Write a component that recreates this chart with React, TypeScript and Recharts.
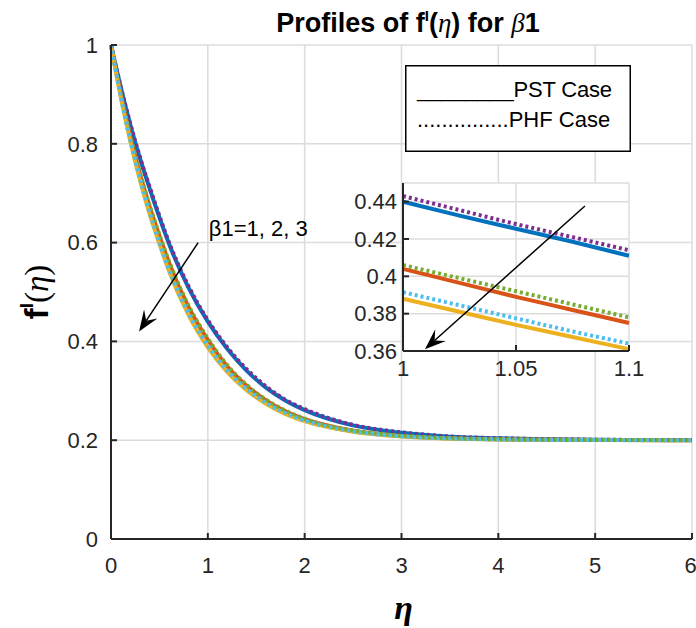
import React from 'react';
import { LineChart, Line, XAxis, YAxis, CartesianGrid, ReferenceLine, ReferenceDot, Legend } from 'recharts';

const SANS = '"Liberation Sans", Arial, Helvetica, sans-serif';
const SERIF = '"Liberation Serif", "Times New Roman", serif';

// main plot: eta from 0 to 6
const etaValues = [0, 0.1, 0.2, 0.3, 0.4, 0.5, 0.6, 0.8, 1.0, 1.2, 1.4, 1.6, 1.8, 2.0, 2.5, 3.0, 3.5, 4.0, 4.5, 5.0, 5.5, 6.0];
const pstBeta1 = [1.0, 0.915, 0.838, 0.77, 0.709, 0.651, 0.597, 0.509, 0.44, 0.385, 0.341, 0.3065, 0.2805, 0.261, 0.23, 0.215, 0.207, 0.2037, 0.2018, 0.2009, 0.2005, 0.2002];
const pstBeta2 = [1.0, 0.901, 0.814, 0.7385, 0.672, 0.6135, 0.559, 0.47, 0.4033, 0.3497, 0.3103, 0.2806, 0.2585, 0.2425, 0.2191, 0.2086, 0.2039, 0.2017, 0.2008, 0.2004, 0.2002, 0.2001];
const pstBeta3 = [1.0, 0.8956, 0.8047, 0.7257, 0.657, 0.5973, 0.542, 0.4536, 0.388, 0.338, 0.3012, 0.2737, 0.2533, 0.2385, 0.2172, 0.2076, 0.2034, 0.2015, 0.2007, 0.2003, 0.2001, 0.2001];
const phfBeta1 = [1.0, 0.916, 0.84, 0.772, 0.712, 0.654, 0.6, 0.512, 0.443, 0.388, 0.344, 0.309, 0.282, 0.263, 0.231, 0.216, 0.2075, 0.204, 0.202, 0.201, 0.2005, 0.2002];
const phfBeta2 = [1.0, 0.902, 0.816, 0.741, 0.675, 0.616, 0.562, 0.473, 0.406, 0.352, 0.312, 0.282, 0.26, 0.2435, 0.2198, 0.209, 0.204, 0.2018, 0.2008, 0.2004, 0.2002, 0.2001];
const phfBeta3 = [1.0, 0.897, 0.807, 0.729, 0.66, 0.6, 0.545, 0.457, 0.3915, 0.341, 0.304, 0.276, 0.255, 0.24, 0.218, 0.208, 0.2036, 0.2016, 0.2007, 0.2003, 0.2001, 0.2001];

// zoomed inset: eta from 1 to 1.1
const insetEta = [1.0, 1.025, 1.05, 1.075, 1.1];
const insetPst1 = [0.44, 0.4325, 0.4255, 0.4185, 0.411];
const insetPst2 = [0.404, 0.3965, 0.389, 0.382, 0.375];
const insetPst3 = [0.388, 0.381, 0.374, 0.3675, 0.361];
const insetPhf1 = [0.443, 0.4355, 0.428, 0.421, 0.414];
const insetPhf2 = [0.406, 0.399, 0.392, 0.385, 0.378];
const insetPhf3 = [0.3915, 0.3845, 0.3775, 0.3705, 0.364];

const mainTicksX = [0, 1, 2, 3, 4, 5, 6];
const mainTicksY = [0, 0.2, 0.4, 0.6, 0.8, 1];
const insetTicksX = [1, 1.05, 1.1];
const insetTicksY = [0.36, 0.38, 0.4, 0.42, 0.44];

const series = [
  { key: 'pst1', color: '#0072BD', dotted: false },
  { key: 'pst2', color: '#D95319', dotted: false },
  { key: 'pst3', color: '#EDB120', dotted: false },
  { key: 'phf1', color: '#7E2F8E', dotted: true },
  { key: 'phf2', color: '#77AC30', dotted: true },
  { key: 'phf3', color: '#4DBEEE', dotted: true },
];

const mainData = etaValues.map((eta, i) => ({
  eta,
  pst1: pstBeta1[i], pst2: pstBeta2[i], pst3: pstBeta3[i],
  phf1: phfBeta1[i], phf2: phfBeta2[i], phf3: phfBeta3[i],
}));

const insetData = insetEta.map((eta, i) => ({
  eta,
  pst1: insetPst1[i], pst2: insetPst2[i], pst3: insetPst3[i],
  phf1: insetPhf1[i], phf2: insetPhf2[i], phf3: insetPhf3[i],
}));

const fmt = (v: number) => String(Number(v.toFixed(2)));
const AXIS = '#262626';
const GRID = '#dcdcdc';
const tickStyle = { fill: AXIS, fontSize: 22, fontFamily: SANS };

const ArrowShape = (props: any) => {
  const { x1, y1, x2, y2 } = props;
  const dx = x2 - x1;
  const dy = y2 - y1;
  const len = Math.hypot(dx, dy) || 1;
  const ux = dx / len;
  const uy = dy / len;
  const nx = -uy;
  const ny = ux;
  const L = 21, W = 8, N = 13;
  const bx = x2 - ux * L;
  const by = y2 - uy * L;
  const pts = [
    [x2, y2],
    [bx + nx * W, by + ny * W],
    [x2 - ux * N, y2 - uy * N],
    [bx - nx * W, by - ny * W],
  ].map((p) => p.join(',')).join(' ');
  return (
    <g>
      <line x1={x1} y1={y1} x2={x2 - ux * N} y2={y2 - uy * N} stroke="#000" strokeWidth={1.5} />
      <polygon points={pts} fill="#000" />
    </g>
  );
};

const YLabel = (props: any) => {
  const { viewBox } = props;
  const cx = viewBox.x + 48;
  const cy = viewBox.y + viewBox.height / 2;
  return (
    <text transform={`translate(${cx},${cy}) rotate(-90)`} textAnchor="middle" fill="#000" fontSize={33} fontFamily={SANS} fontWeight="bold">
      f<tspan fontSize={19} dy={-15}>I</tspan>
      <tspan dy={15} fontFamily={SERIF} fontWeight="normal">(</tspan>
      <tspan fontFamily={SERIF} fontStyle="italic" fontWeight="normal">η</tspan>
      <tspan fontFamily={SERIF} fontWeight="normal">)</tspan>
    </text>
  );
};

const XLabel = (props: any) => {
  const { viewBox } = props;
  return (
    <text x={viewBox.x + viewBox.width / 2 + 2} y={viewBox.y + 80} textAnchor="middle" fill="#000" fontSize={34} fontFamily={SERIF} fontStyle="italic" fontWeight="bold">
      η
    </text>
  );
};

const LegendBox = () => (
  <svg width={226} height={87} style={{ display: 'block' }}>
    <rect x={0.75} y={0.75} width={224.5} height={85.5} fill="#fff" stroke="#000" strokeWidth={1.5} />
    <text x={12} y={32} fontSize={22} fontFamily={SANS} fill="#000" textLength={195} lengthAdjust="spacing">________PST Case</text>
    <text x={12} y={62} fontSize={22} fontFamily={SANS} fill="#000">...............PHF Case</text>
  </svg>
);

function renderLines() {
  return series.map((s) => (
    <Line
      key={s.key}
      type="monotone"
      dataKey={s.key}
      stroke={s.color}
      strokeWidth={4}
      strokeDasharray={s.dotted ? '3 3' : undefined}
      dot={false}
      activeDot={false}
      isAnimationActive={false}
    />
  ));
}

export default function App() {
  return (
    <div style={{ position: 'absolute', left: 0, top: 0, width: 696, height: 628, background: '#fff' }}>
      <LineChart width={696} height={628} data={mainData} margin={{ top: 45, right: 4, left: 0, bottom: 0 }}>
        <CartesianGrid stroke={GRID} strokeWidth={1.5} />
        <XAxis
          dataKey="eta"
          type="number"
          domain={[0, 6]}
          ticks={mainTicksX}
          height={89}
          stroke={AXIS}
          strokeWidth={2}
          tickSize={-6}
          tickMargin={24}
          tick={tickStyle}
          label={{ content: XLabel }}
        />
        <XAxis xAxisId="top" orientation="top" type="number" domain={[0, 6]} ticks={mainTicksX} height={0} stroke={AXIS} strokeWidth={2} tickSize={-6} tick={false} />
        <YAxis
          type="number"
          domain={[0, 1]}
          ticks={mainTicksY}
          width={111}
          stroke={AXIS}
          strokeWidth={2}
          tickSize={-6}
          tickMargin={19}
          tick={tickStyle}
          tickFormatter={fmt}
          label={{ content: YLabel }}
        />
        <YAxis yAxisId="right" orientation="right" type="number" domain={[0, 1]} ticks={mainTicksY} width={0} stroke={AXIS} strokeWidth={2} tickSize={-6} tick={false} />
        {renderLines()}
        <ReferenceLine segment={[{ x: 0.9, y: 0.6 }, { x: 0.29, y: 0.42 }]} shape={ArrowShape} />
        <ReferenceDot
          x={1.01}
          y={0.613}
          r={0}
          shape={(p: any) => (
            <text x={p.cx} y={p.cy} fontSize={22} fontFamily={SANS} fill="#000">β1=1, 2, 3</text>
          )}
        />
        <Legend
          layout="vertical"
          align="center"
          verticalAlign="middle"
          wrapperStyle={{ position: 'absolute', left: 405, top: 65, width: 226, height: 87 }}
          content={() => <LegendBox />}
        />
      </LineChart>

      <div style={{ position: 'absolute', left: 340, top: 170 }}>
        <LineChart width={330} height={215} data={insetData} margin={{ top: 13, right: 41, left: 0, bottom: 0 }}>
          <CartesianGrid stroke={GRID} strokeWidth={1.5} fill="#fff" fillOpacity={1} />
          <XAxis
            dataKey="eta"
            type="number"
            domain={[1, 1.1]}
            ticks={insetTicksX}
            height={34}
            stroke={AXIS}
            strokeWidth={2}
            tickSize={-6}
            tickMargin={15}
            tick={tickStyle}
            tickFormatter={fmt}
          />
          <XAxis xAxisId="top" orientation="top" type="number" domain={[1, 1.1]} ticks={insetTicksX} height={0} stroke={AXIS} strokeWidth={2} tickSize={-6} tick={false} />
          <YAxis
            type="number"
            domain={[0.36, 0.45]}
            ticks={insetTicksY}
            width={63}
            stroke={AXIS}
            strokeWidth={2}
            tickSize={-6}
            tickMargin={12}
            tick={tickStyle}
            tickFormatter={fmt}
          />
          <YAxis yAxisId="right" orientation="right" type="number" domain={[0.36, 0.45]} ticks={insetTicksY} width={0} stroke={AXIS} strokeWidth={2} tickSize={-6} tick={false} />
          {renderLines()}
          <ReferenceLine segment={[{ x: 1.0805, y: 0.4377 }, { x: 1.0097, y: 0.361 }]} shape={ArrowShape} />
        </LineChart>
      </div>

      <svg width={696} height={45} style={{ position: 'absolute', left: 0, top: 0, pointerEvents: 'none' }}>
        <text x={408} y={32} textAnchor="middle" fontSize={27} fontFamily={SANS} fontWeight="bold" fill="#000">
          Profiles of f<tspan fontSize={15} dy={-11}>I</tspan>
          <tspan dy={11}>(</tspan>
          <tspan fontFamily={SERIF} fontStyle="italic" fontWeight="normal">η</tspan>
          <tspan>) for </tspan>
          <tspan fontFamily={SERIF} fontStyle="italic" fontWeight="normal">β</tspan>
          <tspan>1</tspan>
        </text>
      </svg>
    </div>
  );
}
